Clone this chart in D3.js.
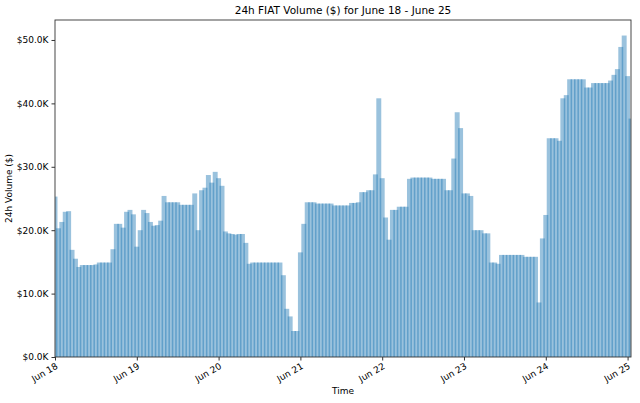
<!DOCTYPE html>
<html>
<head>
<meta charset="utf-8">
<script src="https://cdn.jsdelivr.net/npm/d3@7"></script>
<style>
body { margin: 0; background: #fff; }
text { font-family: "DejaVu Sans", sans-serif; fill: #000; }
</style>
</head>
<body>
<svg id="chart" width="640" height="403"></svg>
<script>
// data: hourly 24h fiat volume (thousands of $), starting Jun 18 00:00
var startDate = new Date(2018, 5, 18);
var dayLabels = ['Jun 18', 'Jun 19', 'Jun 20', 'Jun 21', 'Jun 22', 'Jun 23', 'Jun 24', 'Jun 25'];
var yTicks = [0, 10, 20, 30, 40, 50];
var jun18 = [25.3, 20.3, 21.3, 22.9, 23.0, 16.9, 15.5, 14.2, 14.5, 14.5, 14.5, 14.5,
	14.6, 14.9, 14.9, 14.9, 14.9, 17.0, 21.0, 21.0, 20.4, 22.9, 23.2, 22.5];
var jun19 = [17.4, 20.0, 23.2, 22.7, 21.3, 20.7, 20.8, 21.5, 25.4, 24.4, 24.4, 24.4,
	24.4, 24.0, 24.0, 24.0, 24.0, 25.8, 20.0, 26.3, 26.7, 28.7, 27.5, 29.2];
var jun20 = [28.2, 27.0, 19.8, 19.5, 19.4, 19.3, 19.4, 19.4, 18.0, 14.7, 14.9, 14.9,
	14.9, 14.9, 14.9, 14.9, 14.9, 14.9, 14.9, 12.9, 7.6, 6.4, 4.1, 4.1];
var jun21 = [16.5, 21.0, 24.4, 24.4, 24.4, 24.2, 24.2, 24.2, 24.2, 24.2, 23.9, 23.9,
	23.9, 23.9, 23.9, 24.3, 24.3, 24.4, 26.0, 26.0, 26.3, 26.3, 28.8, 40.8];
var jun22 = [28.2, 22.0, 18.5, 23.2, 23.2, 23.7, 23.7, 23.7, 28.1, 28.3, 28.3, 28.3,
	28.3, 28.3, 28.3, 28.1, 28.1, 28.1, 28.1, 26.3, 26.3, 31.3, 38.6, 36.1];
var jun23 = [25.8, 25.8, 25.4, 20.0, 20.0, 20.0, 19.5, 19.5, 14.9, 14.9, 14.7, 16.1,
	16.1, 16.1, 16.1, 16.1, 16.1, 16.1, 15.8, 15.8, 15.8, 15.8, 8.6, 18.7];
var jun24 = [22.4, 34.5, 34.5, 34.5, 34.1, 40.8, 41.3, 43.8, 43.8, 43.8, 43.8, 43.8,
	42.5, 42.5, 43.2, 43.2, 43.2, 43.2, 43.2, 43.6, 44.5, 45.4, 48.9, 50.7];
var jun25 = [44.3, 37.6];

var volume = [].concat(jun18, jun19, jun20, jun21, jun22, jun23, jun24, jun25);
var points = volume.map(function(v, i) {
	return { t: d3.timeHour.offset(startDate, i), v: v };
});

// layout
var margin = { left: 55, right: 9, top: 20, bottom: 46 };
var width = 640, height = 403;
var svg = d3.select('#chart');

var x = d3.scaleTime()
	.domain([startDate, d3.timeHour.offset(startDate, 169)])
	.range([margin.left, width - margin.right]);
var y = d3.scaleLinear()
	.domain([0, 53.15])
	.range([height - margin.bottom, margin.top]);

var hourPx = x(d3.timeHour.offset(startDate, 1)) - x(startDate);
var barW = hourPx * 1.45;

svg.append('clipPath').attr('id', 'clip')
	.append('rect')
	.attr('x', margin.left).attr('y', margin.top)
	.attr('width', width - margin.left - margin.right)
	.attr('height', height - margin.top - margin.bottom);

svg.append('g').attr('clip-path', 'url(#clip)')
	.selectAll('rect')
	.data(points)
	.enter().append('rect')
	.attr('x', function(d) { return x(d.t) - barW / 2; })
	.attr('y', function(d) { return y(d.v); })
	.attr('width', barW)
	.attr('height', function(d) { return y(0) - y(d.v); })
	.attr('fill', '#1f77b4')
	.attr('fill-opacity', 0.45);

// frame
svg.append('rect')
	.attr('x', margin.left).attr('y', margin.top)
	.attr('width', width - margin.left - margin.right)
	.attr('height', height - margin.top - margin.bottom)
	.attr('fill', 'none')
	.attr('stroke', '#333')
	.attr('stroke-width', 0.9);

// y axis
var yAxis = svg.append('g')
	.attr('transform', 'translate(' + margin.left + ',0)')
	.call(d3.axisLeft(y).tickValues(yTicks).tickSize(3.5).tickPadding(3)
		.tickFormat(function(d) { return '$' + d3.format('.1f')(d) + 'K'; }));
yAxis.select('.domain').remove();
yAxis.selectAll('text').style('font-size', '9px');
yAxis.selectAll('line').attr('stroke', '#333');

// x axis
var dayTicks = dayLabels.map(function(l, i) { return d3.timeDay.offset(startDate, i); });
var xAxis = svg.append('g')
	.attr('transform', 'translate(0,' + (height - margin.bottom) + ')')
	.call(d3.axisBottom(x).tickValues(dayTicks).tickSize(3.5)
		.tickFormat(function(d, i) { return dayLabels[i]; }));
xAxis.select('.domain').remove();
xAxis.selectAll('line').attr('stroke', '#333');
xAxis.selectAll('text')
	.style('font-size', '9px')
	.attr('text-anchor', 'end')
	.attr('dy', null)
	.attr('y', 0)
	.attr('transform', 'translate(3,11) rotate(-30)');

// labels
svg.append('text')
	.attr('x', (margin.left + width - margin.right) / 2)
	.attr('y', 14)
	.attr('text-anchor', 'middle')
	.style('font-size', '10.5px')
	.text('24h FIAT Volume ($) for June 18 - June 25');
svg.append('text')
	.attr('x', (margin.left + width - margin.right) / 2)
	.attr('y', 394)
	.attr('text-anchor', 'middle')
	.style('font-size', '9px')
	.text('Time');
svg.append('text')
	.attr('transform', 'translate(12,' + ((margin.top + height - margin.bottom) / 2) + ') rotate(-90)')
	.attr('text-anchor', 'middle')
	.style('font-size', '9px')
	.text('24h Volume ($)');
</script>
</body>
</html>
